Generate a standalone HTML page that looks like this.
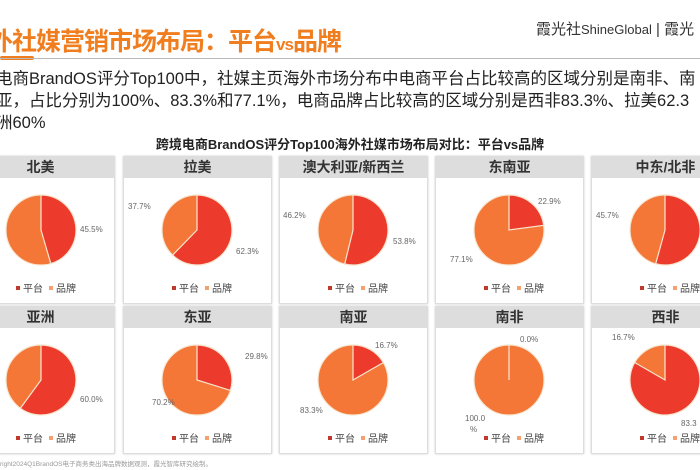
<!DOCTYPE html>
<html><head><meta charset="utf-8"><style>
body{margin:0;width:700px;height:470px;overflow:hidden;background:#fff;font-family:"Liberation Sans","Noto Sans CJK SC",sans-serif;position:relative}
.t{position:absolute;white-space:nowrap}
.p{position:absolute;width:147px;background:#fff;border:1px solid #ddd;box-shadow:0 0 2px #ccc}
.p .h{height:21px;background:#ddd;text-align:center;font-weight:bold;font-size:14px;line-height:21px;color:#333}
</style></head><body>
<div class="t" style="left:-12px;top:22px;font-size:25px;font-weight:bold;color:#f07d1e;letter-spacing:-1px">外社媒营销市场布局：平台<span style="font-size:17px">vs</span>品牌</div>
<div style="position:absolute;left:0;top:56px;width:34px;height:4px;background:#f07d1e;border-radius:2px"></div>
<div style="position:absolute;left:0;top:58px;width:700px;height:1px;background:#bbb"></div>
<div class="t" style="left:536px;top:18px;font-size:15px;color:#333">霞光社<span style="font-size:13px">ShineGlobal</span> | 霞光</div>
<div class="t" style="left:-4px;top:68px;font-size:16.5px;line-height:22px;color:#222">电商BrandOS评分Top100中，社媒主页海外市场分布中电商平台占比较高的区域分别是南非、南<br>亚，占比分别为100%、83.3%和77.1%，电商品牌占比较高的区域分别是西非83.3%、拉美62.3<br>洲60%</div>
<div class="t" style="left:0;width:700px;text-align:center;top:134px;font-size:13px;font-weight:bold;color:#222">跨境电商BrandOS评分Top100海外社媒市场布局对比：平台vs品牌</div>

<div class="p" style="left:-34px;top:156px;height:146px"><div class="h">北美</div></div>
<div class="p" style="left:123px;top:156px;height:146px"><div class="h">拉美</div></div>
<div class="p" style="left:279px;top:156px;height:146px"><div class="h">澳大利亚/新西兰</div></div>
<div class="p" style="left:435px;top:156px;height:146px"><div class="h">东南亚</div></div>
<div class="p" style="left:591px;top:156px;height:146px"><div class="h">中东/北非</div></div>
<div class="p" style="left:-34px;top:306px;height:146px"><div class="h">亚洲</div></div>
<div class="p" style="left:123px;top:306px;height:146px"><div class="h">东亚</div></div>
<div class="p" style="left:279px;top:306px;height:146px"><div class="h">南亚</div></div>
<div class="p" style="left:435px;top:306px;height:146px"><div class="h">南非</div></div>
<div class="p" style="left:591px;top:306px;height:146px"><div class="h">西非</div></div>

<svg width="700" height="470" style="position:absolute;left:0;top:0" font-family="Liberation Sans,Noto Sans CJK SC,sans-serif">
<g stroke="#f6e6d0" stroke-width="1.2">
<circle cx="41" cy="230" r="35" fill="#f47738"/><path d="M41 230 L41 195 A35 35 0 0 1 50.8 263.6Z" fill="#ec3b2c"/>
<circle cx="197" cy="230" r="35" fill="#f47738"/><path d="M197 230 L197 195 A35 35 0 1 1 172.6 255.1Z" fill="#ec3b2c"/>
<circle cx="353" cy="230" r="35" fill="#f47738"/><path d="M353 230 L353 195 A35 35 0 1 1 344.7 264Z" fill="#ec3b2c"/>
<circle cx="509" cy="230" r="35" fill="#f47738"/><path d="M509 230 L509 195 A35 35 0 0 1 543.7 225.4Z" fill="#ec3b2c"/>
<circle cx="665" cy="230" r="35" fill="#f47738"/><path d="M665 230 L665 195 A35 35 0 1 1 655.7 263.7Z" fill="#ec3b2c"/>
<circle cx="41" cy="380" r="35" fill="#f47738"/><path d="M41 380 L41 345 A35 35 0 1 1 20.4 408.3Z" fill="#ec3b2c"/>
<circle cx="197" cy="380" r="35" fill="#f47738"/><path d="M197 380 L197 345 A35 35 0 0 1 230.4 390.4Z" fill="#ec3b2c"/>
<circle cx="353" cy="380" r="35" fill="#f47738"/><path d="M353 380 L353 345 A35 35 0 0 1 383.3 362.6Z" fill="#ec3b2c"/>
<circle cx="509" cy="380" r="35" fill="#f47738"/><path d="M509 380 L509 345" fill="none"/>
<circle cx="665" cy="380" r="35" fill="#f47738"/><path d="M665 380 L665 345 A35 35 0 1 1 634.7 362.5Z" fill="#ec3b2c"/>
</g>
<g font-size="8" fill="#666">
<text x="80" y="232">45.5%</text><text x="128" y="209">37.7%</text><text x="236" y="254">62.3%</text>
<text x="283" y="218">46.2%</text><text x="393" y="244">53.8%</text><text x="538" y="204">22.9%</text>
<text x="450" y="262">77.1%</text><text x="596" y="218">45.7%</text>
<text x="80" y="402">60.0%</text><text x="245" y="359">29.8%</text><text x="152" y="405">70.2%</text>
<text x="375" y="348">16.7%</text><text x="300" y="413">83.3%</text><text x="520" y="342">0.0%</text>
<text x="465" y="421">100.0</text><text x="470" y="432">%</text><text x="612" y="340">16.7%</text><text x="681" y="426">83.3</text>
</g>
<g font-size="10" fill="#444">
<g transform="translate(0,0)"><rect x="16" y="286" width="4" height="4" fill="#c0392b"/><text x="23" y="292">平台</text><rect x="49" y="286" width="4" height="4" fill="#f4a070"/><text x="56" y="292">品牌</text></g>
<g transform="translate(156,0)"><rect x="16" y="286" width="4" height="4" fill="#c0392b"/><text x="23" y="292">平台</text><rect x="49" y="286" width="4" height="4" fill="#f4a070"/><text x="56" y="292">品牌</text></g>
<g transform="translate(312,0)"><rect x="16" y="286" width="4" height="4" fill="#c0392b"/><text x="23" y="292">平台</text><rect x="49" y="286" width="4" height="4" fill="#f4a070"/><text x="56" y="292">品牌</text></g>
<g transform="translate(468,0)"><rect x="16" y="286" width="4" height="4" fill="#c0392b"/><text x="23" y="292">平台</text><rect x="49" y="286" width="4" height="4" fill="#f4a070"/><text x="56" y="292">品牌</text></g>
<g transform="translate(624,0)"><rect x="16" y="286" width="4" height="4" fill="#c0392b"/><text x="23" y="292">平台</text><rect x="49" y="286" width="4" height="4" fill="#f4a070"/><text x="56" y="292">品牌</text></g>
<g transform="translate(0,150)"><rect x="16" y="286" width="4" height="4" fill="#c0392b"/><text x="23" y="292">平台</text><rect x="49" y="286" width="4" height="4" fill="#f4a070"/><text x="56" y="292">品牌</text></g>
<g transform="translate(156,150)"><rect x="16" y="286" width="4" height="4" fill="#c0392b"/><text x="23" y="292">平台</text><rect x="49" y="286" width="4" height="4" fill="#f4a070"/><text x="56" y="292">品牌</text></g>
<g transform="translate(312,150)"><rect x="16" y="286" width="4" height="4" fill="#c0392b"/><text x="23" y="292">平台</text><rect x="49" y="286" width="4" height="4" fill="#f4a070"/><text x="56" y="292">品牌</text></g>
<g transform="translate(468,150)"><rect x="16" y="286" width="4" height="4" fill="#c0392b"/><text x="23" y="292">平台</text><rect x="49" y="286" width="4" height="4" fill="#f4a070"/><text x="56" y="292">品牌</text></g>
<g transform="translate(624,150)"><rect x="16" y="286" width="4" height="4" fill="#c0392b"/><text x="23" y="292">平台</text><rect x="49" y="286" width="4" height="4" fill="#f4a070"/><text x="56" y="292">品牌</text></g>
</g>
<text x="0" y="466" font-size="6.5" fill="#999">right2024Q1BrandOS电子商务类出海品牌数据观测，霞光智库研究绘制。</text>
</svg>
</body></html>
